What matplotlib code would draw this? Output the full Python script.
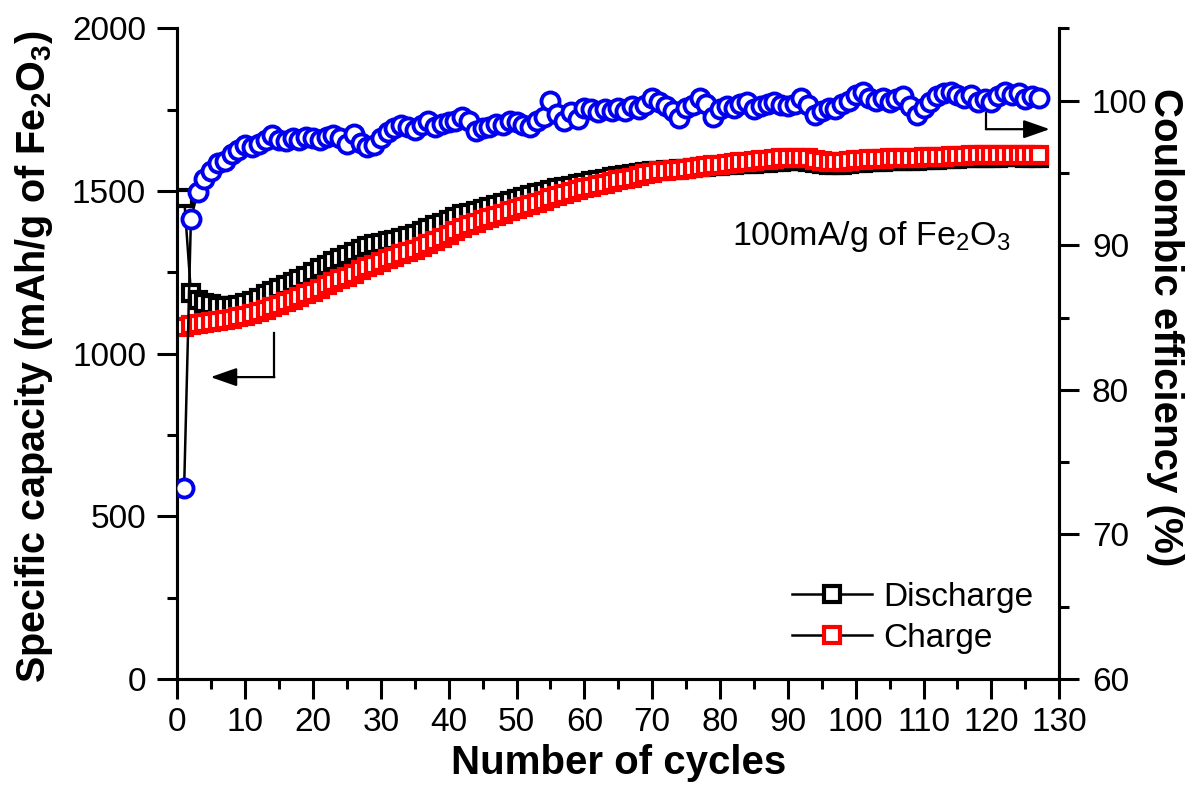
import numpy as np
import matplotlib
matplotlib.use('Agg')
import matplotlib.pyplot as plt
from matplotlib.ticker import MultipleLocator

plt.rcParams['font.family'] = ['Liberation Sans', 'DejaVu Sans']
plt.rcParams['mathtext.fontset'] = 'custom'
plt.rcParams['mathtext.rm'] = 'Liberation Sans'
plt.rcParams['mathtext.bf'] = 'Liberation Sans:bold'

# 循环次数 1..127
cycles = np.arange(1, 128)

# 放电容量 mAh/g
discharge = [1480, 1187, 1165, 1157, 1152, 1148, 1146, 1146, 1150, 1156,
             1163, 1172, 1183, 1193, 1203, 1212, 1221, 1230, 1239, 1250,
             1262, 1273, 1284, 1294, 1303, 1313, 1322, 1330, 1336, 1341,
             1345, 1350, 1355, 1361, 1368, 1376, 1385, 1394, 1403, 1412,
             1421, 1428, 1433, 1438, 1444, 1450, 1457, 1464, 1470, 1476,
             1482, 1488, 1493, 1498, 1503, 1508, 1512, 1516, 1521, 1526,
             1530, 1534, 1538, 1542, 1545, 1548, 1551, 1555, 1558, 1561,
             1563, 1565, 1566, 1568, 1569, 1571, 1573, 1575, 1576, 1578,
             1579, 1580, 1582, 1583, 1584, 1585, 1587, 1589, 1590, 1591,
             1592, 1592, 1590, 1586, 1582, 1580, 1580, 1581, 1583, 1585,
             1587, 1588, 1589, 1590, 1591, 1592, 1592, 1593, 1593, 1594,
             1595, 1596, 1597, 1598, 1599, 1600, 1601, 1601, 1602, 1602,
             1602, 1603, 1603, 1603, 1602, 1602, 1602]

# 充电容量 mAh/g
charge = [1083, 1089, 1092, 1095, 1098, 1101, 1104, 1108, 1112, 1117,
          1122, 1128, 1135, 1142, 1150, 1158, 1166, 1174, 1182, 1191,
          1200, 1210, 1219, 1228, 1237, 1246, 1256, 1266, 1274, 1282,
          1290, 1298, 1305, 1312, 1319, 1327, 1336, 1346, 1356, 1366,
          1376, 1386, 1395, 1403, 1410, 1417, 1423, 1430, 1437, 1444,
          1450, 1456, 1463, 1470, 1478, 1485, 1491, 1497, 1503, 1508,
          1513, 1518, 1523, 1528, 1533, 1537, 1541, 1546, 1551, 1556,
          1560, 1562, 1564, 1566, 1568, 1571, 1574, 1577, 1579, 1581,
          1583, 1585, 1588, 1590, 1592, 1594, 1596, 1598, 1600, 1601,
          1602, 1602, 1601, 1596, 1591, 1589, 1589, 1590, 1592, 1594,
          1596, 1597, 1598, 1599, 1600, 1601, 1601, 1602, 1602, 1603,
          1604, 1605, 1606, 1607, 1608, 1609, 1610, 1610, 1611, 1611,
          1611, 1612, 1612, 1612, 1611, 1611, 1611]

# 库伦效率 %
efficiency = [73.2, 91.8, 93.7, 94.6, 95.1, 95.7, 95.8, 96.3, 96.6, 96.9,
              96.8, 97.0, 97.3, 97.6, 97.3, 97.2, 97.4, 97.3, 97.5, 97.4,
              97.3, 97.5, 97.6, 97.4, 97.0, 97.7, 97.1, 96.8, 96.9, 97.4,
              97.8, 98.1, 98.3, 98.2, 98.0, 98.3, 98.6, 98.2, 98.4, 98.5,
              98.6, 98.9, 98.6, 97.9, 98.1, 98.2, 98.4, 98.3, 98.6, 98.5,
              98.3, 98.2, 98.6, 98.9, 100.0, 99.1, 98.6, 99.2, 98.7, 99.5,
              99.4, 99.2, 99.4, 99.3, 99.5, 99.3, 99.6, 99.4, 99.7, 100.2,
              99.9, 99.6, 99.3, 98.8, 99.5, 99.7, 100.2, 99.8, 98.9, 99.4,
              99.6, 99.5, 99.8, 99.9, 99.4, 99.6, 99.8, 99.9, 99.7, 99.6,
              99.8, 100.2, 99.7, 99.0, 99.3, 99.5, 99.4, 99.8, 100.0, 100.4,
              100.6, 100.2, 100.0, 100.2, 99.9, 100.1, 100.3, 99.6, 99.0, 99.5,
              99.9, 100.3, 100.5, 100.6, 100.4, 100.2, 100.4, 99.9, 100.1, 99.9,
              100.3, 100.6, 100.4, 100.5, 100.1, 100.3, 100.2]

fig = plt.figure(figsize=(11.95, 7.98), dpi=100)
ax = fig.add_axes([0.1484, 0.1491, 0.7380, 0.8154])
ax2 = ax.twinx()

ax.plot(cycles, discharge, '-s', color='black', lw=1.8, ms=11, mew=3,
        mfc='white', mec='black', label='Discharge', zorder=3)
ax.plot(cycles, charge, '-s', color='black', lw=1.8, ms=11, mew=3,
        mfc='white', mec='red', label='Charge', zorder=4)
ax2.plot(cycles, efficiency, '-o', color='black', lw=1.8, ms=13, mew=2.8,
         mfc='white', mec='#0000ee', zorder=5)

ax.set_xlim(0, 130)
ax.set_ylim(0, 2000)
ax2.set_ylim(60, 105)

ax.xaxis.set_major_locator(MultipleLocator(10))
ax.xaxis.set_minor_locator(MultipleLocator(5))
ax.yaxis.set_major_locator(MultipleLocator(500))
ax.yaxis.set_minor_locator(MultipleLocator(250))
ax2.yaxis.set_major_locator(MultipleLocator(10))
ax2.yaxis.set_minor_locator(MultipleLocator(5))

for a in (ax, ax2):
    a.spines['top'].set_visible(False)
    for s in a.spines.values():
        s.set_linewidth(2.2)
    a.tick_params(which='major', direction='out', length=14.5, width=2.2, labelsize=24)
    a.tick_params(which='minor', direction='out', length=7.2, width=2.2)
ax.tick_params(axis='x', pad=6)
ax.tick_params(axis='y', pad=8)
ax2.tick_params(axis='y', pad=9)
ax2.set_yticks([60, 70, 80, 90, 100])

ax.set_xlabel('Number of cycles', fontsize=29, fontweight='bold', labelpad=4)
ax.set_ylabel(r'Specific capacity (mAh/g of Fe$_{\mathbf{2}}$O$_{\mathbf{3}}$)',
              fontsize=28.5, fontweight='bold', va='center')
ax.yaxis.set_label_coords(-0.162, 0.496)
ax2.set_ylabel('Coulombic efficiency (%)', fontsize=29, fontweight='bold',
               rotation=270, va='center')
ax2.yaxis.set_label_coords(1.12, 0.541)

ax.text(81.8, 1333, r'100mA/g of Fe$_2$O$_3$', fontsize=24.5, va='baseline')

# 指示箭头
ax.plot([14.3, 14.3], [1063, 928], color='black', lw=1.6)
ax.annotate('', xy=(4.9, 928), xytext=(14.3, 928),
            arrowprops=dict(arrowstyle='-|>,head_length=0.8,head_width=0.28',
                            mutation_scale=20, lw=1.6, color='black',
                            shrinkA=0, shrinkB=0))
ax.plot([119.2, 119.2], [1739, 1690], color='black', lw=1.6)
ax.annotate('', xy=(128.6, 1690), xytext=(119.2, 1690),
            arrowprops=dict(arrowstyle='-|>,head_length=0.8,head_width=0.28',
                            mutation_scale=20, lw=1.6, color='black',
                            shrinkA=0, shrinkB=0))

ax.legend(loc='center left', bbox_to_anchor=(0.697, 0.0945), frameon=False,
          fontsize=24, handlelength=2.4, handletextpad=0.35, labelspacing=0.3,
          borderpad=0, borderaxespad=0, markerscale=1.0)

fig.savefig('out.png', dpi=100)
